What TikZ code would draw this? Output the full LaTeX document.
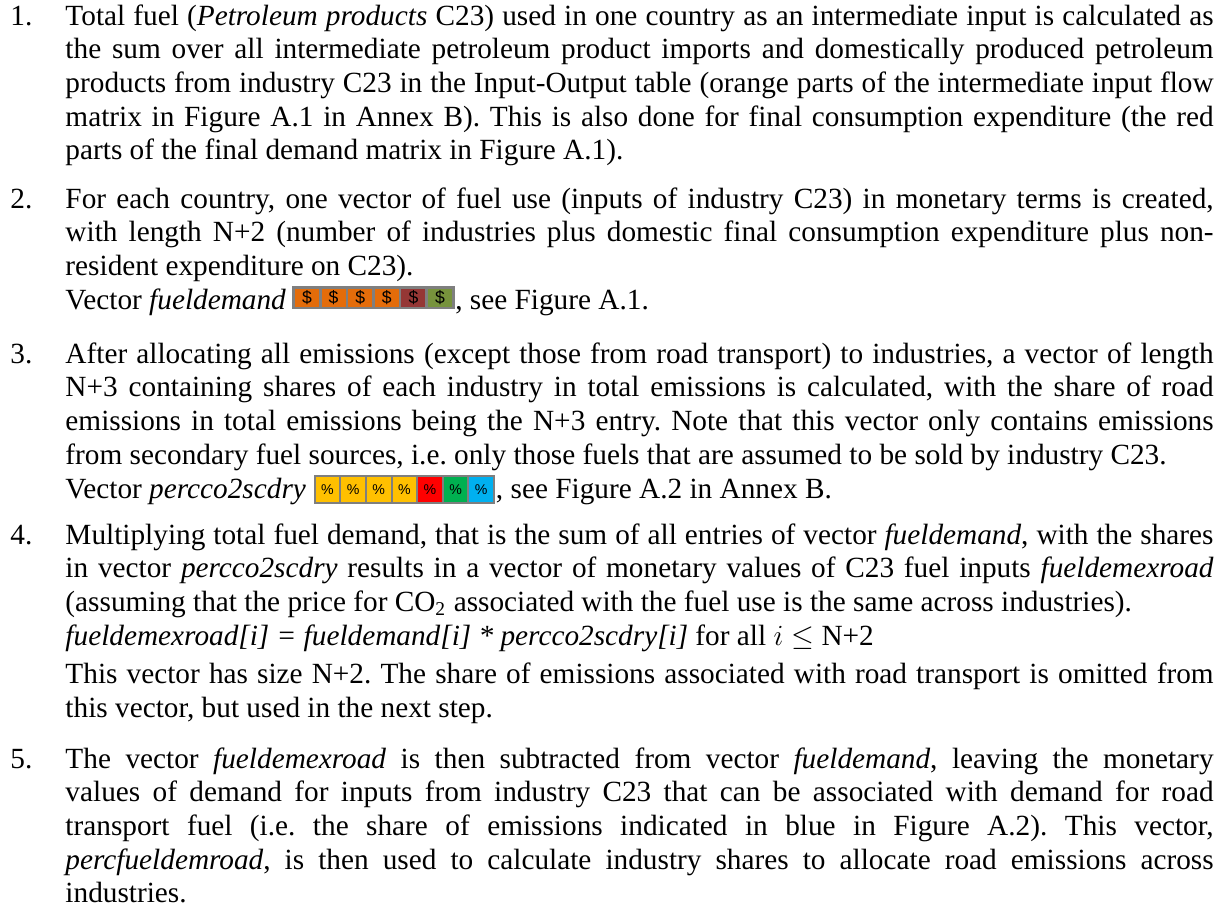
\documentclass[tikz,border=0pt]{standalone}
\usepackage{fontspec}
\setmainfont{Liberation Serif}
\setsansfont{Liberation Sans}
\usepackage{tikz}
\usetikzlibrary{positioning}
\definecolor{fuelorange}{HTML}{E46C0A}
\definecolor{fuelred}{HTML}{953735}
\definecolor{fuelgreen}{HTML}{77933C}
\definecolor{cellgray}{HTML}{7F7F7F}
\definecolor{shryellow}{HTML}{FFC000}
\definecolor{shrred}{HTML}{FF0000}
\definecolor{shrgreen}{HTML}{00B050}
\definecolor{shrblue}{HTML}{00B0F0}
\frenchspacing
\hbadness=10000

\begin{document}
\begin{tikzpicture}[x=0.4098pt, y=-0.4098pt, font=\fontsize{12}{13.8}\selectfont,
  num/.style={anchor=base west, inner sep=0pt},
  item/.style={anchor=base west, inner sep=0pt, text width=470.5pt, align=justify},
  fuelcell/.style={draw=cellgray, line width=1.1pt, outer sep=0pt, inner sep=0pt, minimum width=10.9pt, minimum height=8.4pt, font=\sffamily\fontsize{7.2}{7.2}\selectfont},
  shrcell/.style={draw=cellgray, line width=0.8pt, outer sep=0pt, inner sep=0pt, minimum width=10.5pt, minimum height=11.3pt, font=\sffamily\fontsize{5.8}{6}\selectfont}]
\useasboundingbox (0,0) rectangle (1226,910);
\node[num] (n1) at (10,25) {1.};
\node[item] (p1) at (65,25) {Total fuel (\textit{Petroleum products} C23) used in one country as an intermediate input is calculated as\linebreak
the sum over all intermediate petroleum product imports and domestically produced petroleum\linebreak
products from industry C23 in the Input-Output table (orange parts of the intermediate input flow\linebreak
matrix in Figure A.1 in Annex B). This is also done for final consumption expenditure (the red\linebreak
parts of the final demand matrix in Figure A.1).};
\node[num] (n2) at (10,208) {2.};
\node[item] (p2) at (65,208) {For each country, one vector of fuel use (inputs of industry C23) in monetary terms is created,\linebreak
with length N+2 (number of industries plus domestic final consumption expenditure plus non-\linebreak
resident expenditure on C23).};
\node[num] (v2) at (65,309) {Vector \textit{fueldemand}};
\node[fuelcell, fill=fuelorange, anchor=south west] (f1) at ([xshift=3pt, yshift=0.4pt]v2.base east) {\$};
\foreach \c [count=\i from 2] in {fuelorange,fuelorange,fuelorange,fuelred,fuelgreen}{
  \pgfmathtruncatemacro\j{\i-1}
  \node[fuelcell, fill=\c, right=0pt of f\j] (f\i) {\$};
}
\node[num] (s2) at ([xshift=0.6pt]f6.east |- v2.base) {, see Figure A.1.};
\node[num] (n3) at (10,363) {3.};
\node[item] (p3) at (65,363) {After allocating all emissions (except those from road transport) to industries, a vector of length\linebreak
N+3 containing shares of each industry in total emissions is calculated, with the share of road\linebreak
emissions in total emissions being the N+3 entry. Note that this vector only contains emissions\linebreak
from secondary fuel sources, i.e. only those fuels that are assumed to be sold by industry C23.};
\node[num] (v3) at (65,498) {Vector \textit{percco2scdry}};
\node[shrcell, fill=shryellow, anchor=south west] (c1) at ([xshift=3.4pt, yshift=-2.1pt]v3.base east) {\%};
\foreach \c [count=\i from 2] in {shryellow,shryellow,shryellow,shrred,shrgreen,shrblue}{
  \pgfmathtruncatemacro\j{\i-1}
  \node[shrcell, fill=\c, right=0pt of c\j] (c\i) {\%};
}
\node[num] (s3) at ([xshift=0.6pt]c7.east |- v3.base) {, see Figure A.2 in Annex B.};
\node[num] (n4) at (10,544) {4.};
\node[item] (p4) at (65,544) {Multiplying total fuel demand, that is the sum of all entries of vector \textit{fueldemand}, with the shares\linebreak
in vector \textit{percco2scdry} results in a vector of monetary values of C23 fuel inputs \textit{fueldemexroad}\linebreak
(assuming that the price for CO\textsubscript{2} associated with the fuel use is the same across industries).\newline
\textit{fueldemexroad[i] = fueldemand[i] * percco2scdry[i]} for all $i \leq$ N+2\vadjust{\vskip2pt}\newline
This vector has size N+2. The share of emissions associated with road transport is omitted from\linebreak
this vector, but used in the next step.};
\node[num] (n5) at (10,768) {5.};
\node[item] (p5) at (65,768) {The vector \textit{fueldemexroad} is then subtracted from vector \textit{fueldemand}, leaving the monetary\linebreak
values of demand for inputs from industry C23 that can be associated with demand for road\linebreak
transport fuel (i.e. the share of emissions indicated in blue in Figure A.2). This vector,\linebreak
\textit{percfueldemroad}, is then used to calculate industry shares to allocate road emissions across\linebreak
industries.};
\end{tikzpicture}
\end{document}
